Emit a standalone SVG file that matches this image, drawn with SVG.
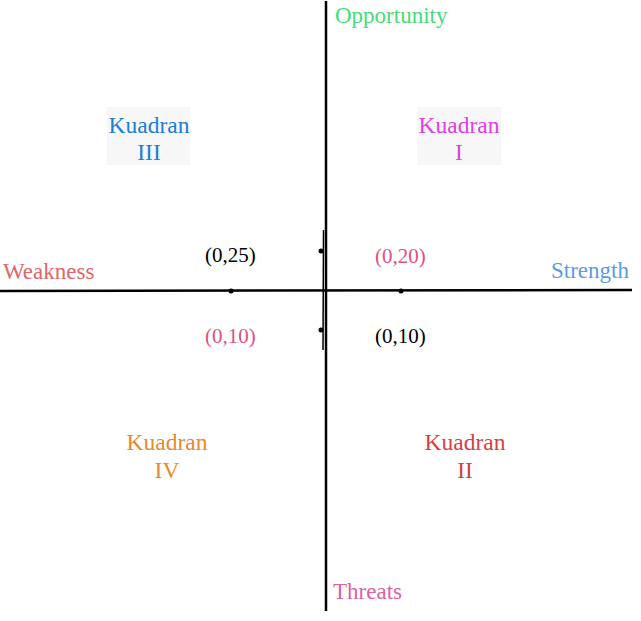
<svg xmlns="http://www.w3.org/2000/svg" width="641" height="621" viewBox="0 0 641 621">
<style>
text{font-family:"Liberation Serif","Times New Roman",serif;}
.lbl{font-size:23px;}
.k{font-size:23.5px;text-anchor:middle;}
.c{font-size:21px;}
.ax{stroke:#000;stroke-width:2.5;fill:none;}
.dot{fill:#000;}
.bg{fill:#f7f7f7;}
</style>
<rect width="641" height="621" fill="#fff"/>
<g id="axes">
<line class="ax" x1="0" y1="291" x2="632" y2="290"/>
<line class="ax" x1="326" y1="1" x2="326" y2="611"/>
<line x1="323.5" y1="230" x2="323" y2="350" stroke="#000" stroke-width="1.5"/>
<circle class="dot" cx="231" cy="291" r="2.5"/>
<circle class="dot" cx="401" cy="291" r="2.5"/>
<circle class="dot" cx="321" cy="251" r="2.5"/>
<circle class="dot" cx="321" cy="330" r="2.5"/>
</g>
<g id="q3">
<rect class="bg" x="107" y="107" width="83" height="58"/>
<text class="k" x="149" y="133" fill="#1a7fd4">Kuadran</text>
<text class="k" x="149" y="160" fill="#1a7fd4">III</text>
</g>
<g id="q1">
<rect class="bg" x="417" y="107" width="84" height="58"/>
<text class="k" x="459" y="133" fill="#e040e0">Kuadran</text>
<text class="k" x="459" y="160" fill="#e040e0">I</text>
</g>
<g id="q4">
<text class="k" x="167" y="450" fill="#e6892e">Kuadran</text>
<text class="k" x="167" y="478" fill="#e6892e">IV</text>
</g>
<g id="q2">
<text class="k" x="465" y="450" fill="#d43f3f">Kuadran</text>
<text class="k" x="465" y="478" fill="#d43f3f">II</text>
</g>
<g id="labels">
<text class="lbl" x="335" y="23" fill="#44dd77">Opportunity</text>
<text class="lbl" x="333" y="599" fill="#e060a0">Threats</text>
<text class="lbl" x="3" y="279" fill="#e06666">Weakness</text>
<text class="lbl" x="551" y="278" fill="#5b9be0">Strength</text>
<text class="c" x="205" y="262" fill="#000">(0,25)</text>
<text class="c" x="375" y="263" fill="#e05080">(0,20)</text>
<text class="c" x="205" y="343" fill="#e05080">(0,10)</text>
<text class="c" x="375" y="343" fill="#000">(0,10)</text>
</g>
</svg>
